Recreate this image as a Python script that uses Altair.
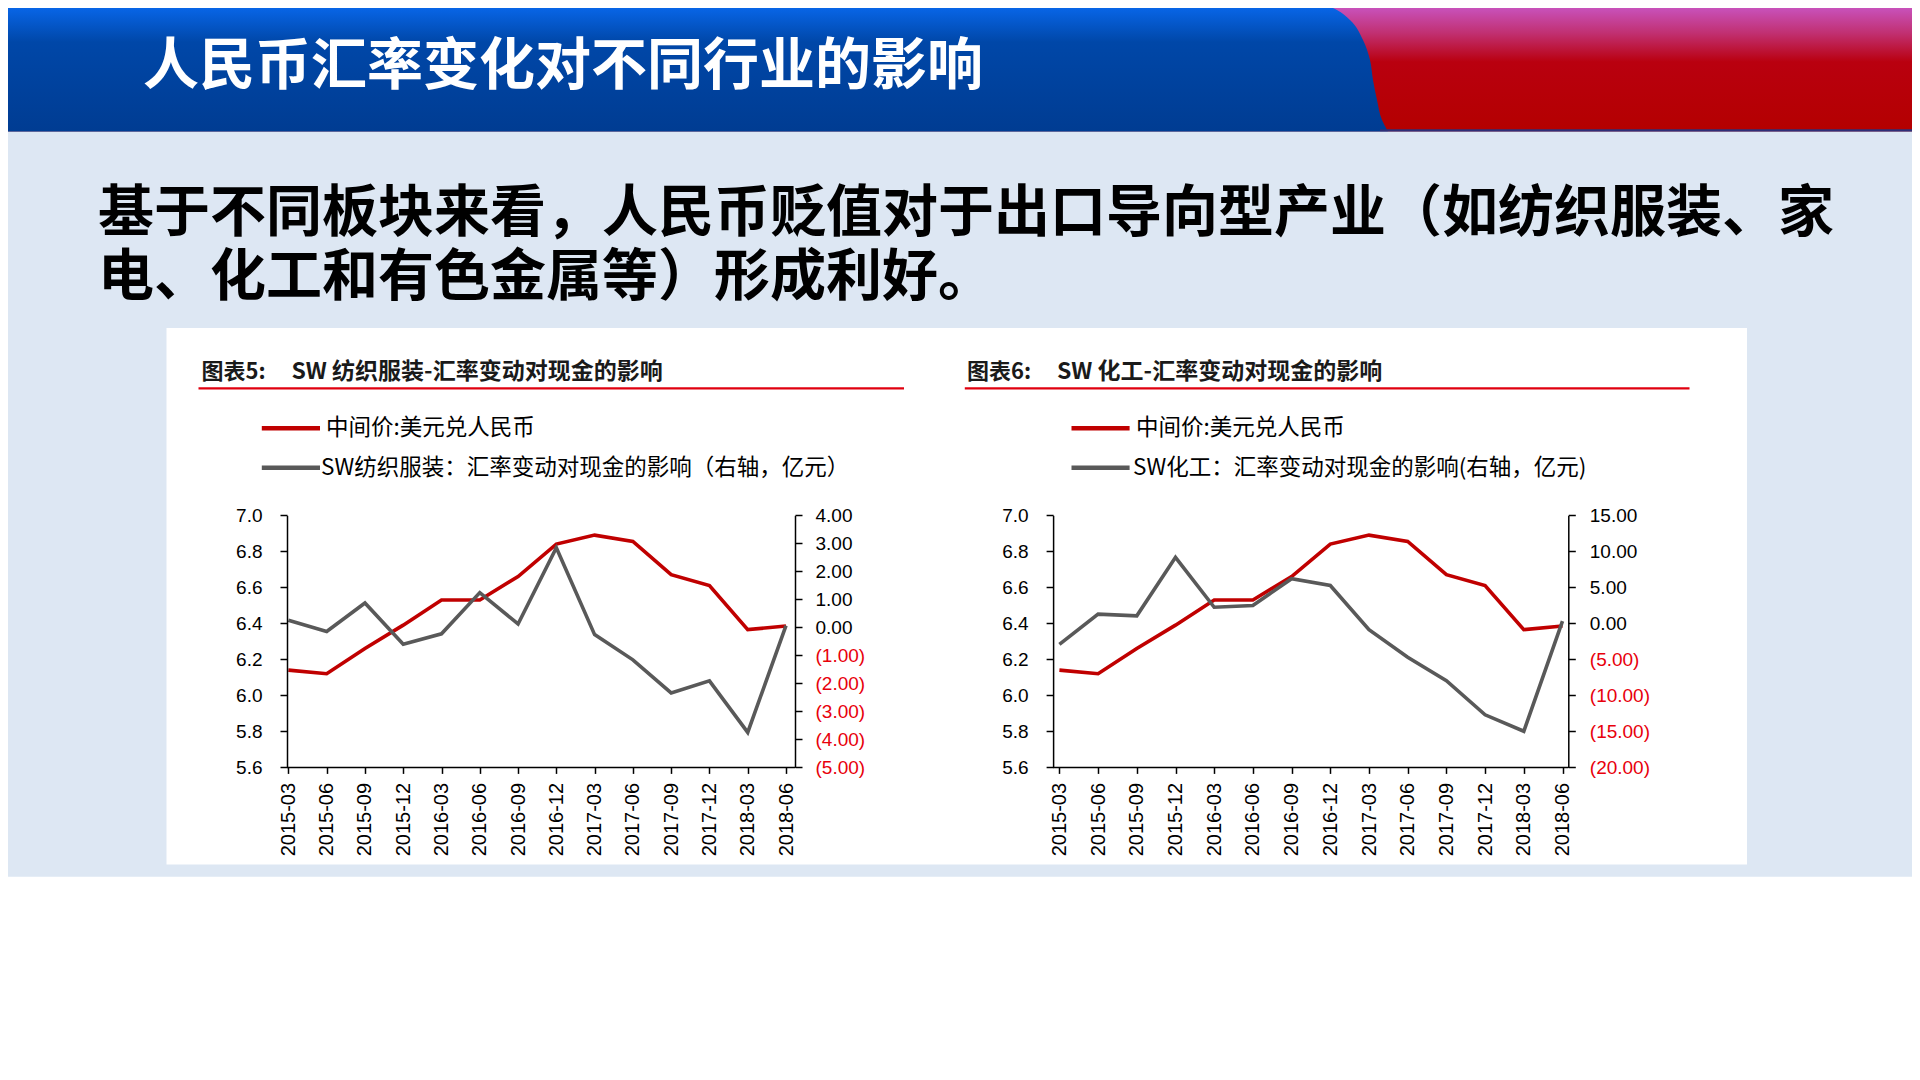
import altair as alt
import pandas as pd

# ---------------- data ----------------
dates = ["2015-03", "2015-06", "2015-09", "2015-12", "2016-03", "2016-06", "2016-09",
         "2016-12", "2017-03", "2017-06", "2017-09", "2017-12", "2018-03", "2018-06"]
usd_cny = [6.14, 6.12, 6.26, 6.39, 6.53, 6.53, 6.66, 6.84, 6.89, 6.855, 6.67, 6.61, 6.365, 6.385]
textile_fx = [0.25, -0.15, 0.87, -0.60, -0.23, 1.24, 0.12, 2.84, -0.26, -1.16, -2.34, -1.91, -3.75, 0.06]
chem_fx = [-2.93, 1.28, 1.04, 9.17, 2.23, 2.47, 6.20, 5.25, -0.87, -4.70, -7.95, -12.70, -14.98, 0.32]

left_ticks = [5.6, 5.8, 6.0, 6.2, 6.4, 6.6, 6.8, 7.0]
textile_ticks = [4, 3, 2, 1, 0, -1, -2, -3, -4, -5]
chem_ticks = [15, 10, 5, 0, -5, -10, -15, -20]

slide_title = "人民币汇率变化对不同行业的影响"
headline_1 = "基于不同板块来看，人民币贬值对于出口导向型产业（如纺织服装、家"
headline_2 = "电、化工和有色金属等）形成利好。"
label_5 = "图表5:"
title_5 = "SW 纺织服装-汇率变动对现金的影响"
label_6 = "图表6:"
title_6 = "SW 化工-汇率变动对现金的影响"
legend_red = "中间价:美元兑人民币"
legend_tex = "SW纺织服装：汇率变动对现金的影响（右轴，亿元）"
legend_chem = "SW化工：汇率变动对现金的影响(右轴，亿元)"

# ---------------- layout helpers ----------------
W, H = 1904, 1064
OX, OY = 8, 8
RED = "#C00000"
GRAY = "#595959"
NEG = "#E8000B"
CJK = "Noto Sans CJK SC"
NUM = "Liberation Sans"


def px(x):
    return x - OX


def py(y):
    return y - OY


one = pd.DataFrame({"k": [0]})


def rect(x1, y1, x2, y2, color):
    return alt.Chart(one).mark_rect(color=color).encode(
        x=alt.value(px(x1)), x2=alt.value(px(x2)),
        y=alt.value(py(y1)), y2=alt.value(py(y2)))


def rule(x1, x2, y, color, width):
    return alt.Chart(one).mark_rule(color=color, strokeWidth=width).encode(
        x=alt.value(px(x1)), x2=alt.value(px(x2)), y=alt.value(py(y)))


def text(x, y, s, size, color="#000000", weight="normal", font=CJK):
    return alt.Chart(one).mark_text(
        align="left", baseline="middle", fontSize=size, fontWeight=weight,
        font=font, color=color).encode(
        x=alt.value(px(x)), y=alt.value(py(y)), text=alt.value(s))


# ---------------- background ----------------
blue_grad = alt.Gradient(
    gradient="linear", x1=0, x2=0, y1=0, y2=1,
    stops=[alt.GradientStop(color="#0A6CF5", offset=0),
           alt.GradientStop(color="#0047A8", offset=0.32),
           alt.GradientStop(color="#003C92", offset=1)])
red_grad = alt.Gradient(
    gradient="linear", x1=0, x2=0, y1=0, y2=1,
    stops=[alt.GradientStop(color="#CA5CD2", offset=0),
           alt.GradientStop(color="#C13072", offset=0.25),
           alt.GradientStop(color="#B9000F", offset=0.47),
           alt.GradientStop(color="#B40000", offset=1)])

HB = 131.7
header_red = rect(0, 0, 1920, HB, red_grad)
header_line = rule(1380, 1920, HB - 1.2, "#2E2F78", 2.4)

curve = pd.DataFrame({
    "ly": [py(v) for v in [0, 10, 20, 40, 60, 80, 100, 120, HB]],
    "lx": [px(v) for v in [1313, 1337, 1350, 1363, 1370, 1373, 1377, 1382, 1388]],
    "x0": [px(0)] * 9,
})
blue_shape = alt.Chart(curve).mark_area(orient="horizontal", color=blue_grad,
                                        interpolate="monotone").encode(
    y=alt.Y("ly:Q", scale=None, axis=None),
    x=alt.X("lx:Q", scale=None, axis=None),
    x2=alt.X2("x0"))

light = rect(0, HB, 1920, 876.8, "#DDE7F3")
panel_bg = rect(166.5, 328, 1747, 864.5, "#FFFFFF")

texts = [
    text(143, 66.7, slide_title, 56, "#FFFFFF", "bold"),
    text(98, 214, headline_1, 56, "#000000", "bold"),
    text(98, 278, headline_2, 56, "#000000", "bold"),
    text(201.5, 371.5, label_5, 22, "#1A1A1A", "bold"),
    text(291.5, 371.5, title_5, 23, "#1A1A1A", "bold"),
    text(967, 371.5, label_6, 22, "#1A1A1A", "bold"),
    text(1057, 371.5, title_6, 23, "#1A1A1A", "bold"),
    rule(198.5, 904, 388.4, "#E0000F", 2.2),
    rule(964.8, 1689.5, 388.4, "#E0000F", 2.2),
    rule(261.8, 320, 428.2, RED, 4.5),
    rule(261.8, 320, 467.8, GRAY, 4.5),
    text(326, 428.2, legend_red, 22.5),
    text(321, 467.8, legend_tex, 22.5),
    rule(1071.5, 1129.6, 428.2, RED, 4.5),
    rule(1071.5, 1129.6, 467.8, GRAY, 4.5),
    text(1136, 428.2, legend_red, 22.5),
    text(1133, 467.8, legend_chem, 22.5),
]

# ---------------- chart panels ----------------
df = pd.DataFrame({"date": dates, "cny": usd_cny, "tex": textile_fx, "chem": chem_fx})

Y_TOP, Y_BOT = 515.3, 767.4
right_label_expr = ("datum.value < 0 ? '(' + format(-datum.value, '.2f') + ')' "
                    ": format(datum.value, '.2f')")
neg_color = {"condition": {"test": "datum.value < 0", "value": NEG}, "value": "#000000"}

axis_common = dict(grid=False, zindex=2, domainColor="#000000", domainWidth=1.5,
                   tickColor="#000000", tickWidth=1.5, labelFont=NUM,
                   labelFontSize=19, labelColor="#000000", title=None)


def panel(x_first, x_last, ax_left, ax_right, col, rdomain, rticks, lpad, rpad):
    xscale = alt.Scale(type="point", domain=dates, range=[px(x_first), px(x_last)], padding=0)
    x_axis = alt.Axis(orient="bottom", offset=py(Y_BOT) - H, labelAngle=270, domain=False,
                      tickSize=6, labelPadding=9,
                      **{**axis_common, "labelFontSize": 20})
    yl = alt.Y("cny:Q",
               scale=alt.Scale(domain=[5.6, 7.0], range=[py(Y_BOT), py(Y_TOP)],
                               zero=False, nice=False),
               axis=alt.Axis(orient="left", offset=-px(ax_left), values=left_ticks,
                             format=".1f", tickSize=7, labelPadding=lpad, **axis_common))
    yr = alt.Y(f"{col}:Q",
               scale=alt.Scale(domain=rdomain, range=[py(Y_BOT), py(Y_TOP)],
                               zero=False, nice=False),
               axis=alt.Axis(orient="right", offset=px(ax_right) - W, values=rticks,
                             labelExpr=right_label_expr, tickSize=7, labelPadding=rpad,
                             **{**axis_common, "labelColor": neg_color}))
    red = alt.Chart(df).mark_line(color=RED, strokeWidth=3.6).encode(
        x=alt.X("date:O", scale=xscale, axis=x_axis, sort=dates), y=yl)
    gray = alt.Chart(df).mark_line(color=GRAY, strokeWidth=3.6).encode(
        x=alt.X("date:O", scale=xscale, axis=None, sort=dates), y=yr)
    base = rule(ax_left, ax_right, Y_BOT, "#000000", 1.5)
    return [base, red, gray]


p1 = panel(288.4, 786, 287, 795, "tex", [-5, 4], textile_ticks, 18, 13)
p2 = panel(1059.4, 1562.5, 1053.1, 1568.3, "chem", [-20, 15], chem_ticks, 18, 14)

chart = alt.layer(
    header_red, blue_shape, header_line, light, panel_bg, *texts, *p1, *p2
).resolve_scale(x="independent", y="independent").resolve_axis(
    x="independent", y="independent"
).properties(
    width=W, height=H, padding=0, autosize=alt.AutoSizeParams(type="none"),
    background="#FFFFFF"
).configure_view(stroke=None)

chart.save("out.html", embed_options={"renderer": "svg", "actions": False})
